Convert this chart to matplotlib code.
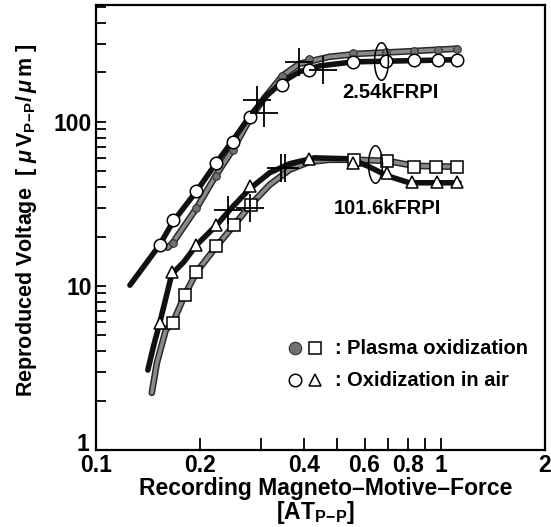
import numpy as np
import matplotlib
matplotlib.use("Agg")
import matplotlib.pyplot as plt
from matplotlib.path import Path
from matplotlib.ticker import FixedLocator, NullFormatter, FixedFormatter

plt.rcParams['font.family'] = ['Liberation Sans', 'DejaVu Sans']
plt.rcParams['font.weight'] = 'bold'
plt.rcParams['mathtext.fontset'] = 'custom'
plt.rcParams['mathtext.rm'] = 'Liberation Sans:bold'
plt.rcParams['mathtext.bf'] = 'Liberation Sans:bold'
plt.rcParams['mathtext.it'] = 'Liberation Sans:bold:italic'

# ---- data: 2.54 kFRPI ----
air_254_x = [0.153, 0.1666, 0.1954, 0.2223, 0.2489, 0.280, 0.3464, 0.4155, 0.557, 0.693, 0.834, 0.978, 1.113]
air_254_y = [17.8, 25.3, 38.1, 56.2, 75.8, 107, 168, 207, 233, 235, 239, 237, 239]
plasma_254_x = [0.1666, 0.1954, 0.2223, 0.2489, 0.280, 0.3464, 0.4155, 0.557, 0.693, 0.834, 0.978, 1.113]
plasma_254_y = [18.3, 29.9, 46.9, 67.5, 105.7, 191, 240, 262, 266, 270, 272, 278]
fit_air_254_x = [0.1254, 0.153, 0.1669, 0.1958, 0.2222, 0.2488, 0.2804, 0.3118, 0.3471, 0.3887, 0.4442, 0.557, 0.757, 1.112]
fit_air_254_y = [10.1, 17.8, 24.5, 37.9, 55.5, 76.6, 110, 144, 175, 202, 219, 232, 235, 239]
fit_plasma_254_x = [0.1615, 0.1669, 0.1958, 0.2222, 0.2488, 0.2804, 0.3077, 0.3471, 0.3887, 0.4748, 0.5786, 0.757, 1.112]
fit_plasma_254_y = [17.1, 18.3, 29.9, 46.9, 67.5, 105.7, 140, 191, 226, 249, 260, 267, 279]

# ---- data: 101.6 kFRPI ----
air_1016_x = [0.153, 0.1658, 0.1952, 0.2234, 0.2787, 0.4155, 0.557, 0.698, 0.825, 0.973, 1.113]
air_1016_y = [5.95, 12.2, 17.8, 23.4, 40.7, 59.5, 56.2, 48.9, 42.7, 42.7, 42.7]
plasma_1016_x = [0.1672, 0.1808, 0.1954, 0.2234, 0.2513, 0.2805, 0.5606, 0.699, 0.836, 0.967, 1.114]
plasma_1016_y = [5.98, 8.81, 12.2, 17.5, 23.5, 31.2, 58.7, 57.3, 53.4, 53.4, 53.4]
fit_air_1016_x = [0.1413, 0.1471, 0.153, 0.1658, 0.1797, 0.1958, 0.2238, 0.2472, 0.2787, 0.3184, 0.3637, 0.4295, 0.5422, 0.6111, 0.6983, 0.8082, 1.127]
fit_air_1016_y = [3.07, 4.37, 5.95, 11.8, 14.0, 17.8, 23.5, 29.9, 39.0, 48.9, 55.5, 60.3, 59.5, 53.9, 46.9, 42.5, 42.5]
fit_plasma_1016_x = [0.1451, 0.1501, 0.1593, 0.1669, 0.1808, 0.1958, 0.2238, 0.2514, 0.2805, 0.3184, 0.3637, 0.4155, 0.4747, 0.5606, 0.6983, 0.8356, 1.113]
fit_plasma_1016_y = [2.23, 3.39, 5.39, 5.95, 8.81, 12.2, 17.5, 23.5, 31.2, 41.3, 51.0, 57.0, 58.7, 58.7, 57.8, 53.9, 53.2]

# cross marks and ellipse marks
cross_x = [0.292, 0.3059, 0.3887, 0.456, 0.2407, 0.2787, 0.3425, 0.354]
cross_y = [136, 113.5, 232, 207, 29.1, 29.9, 52.4, 52.4]
ellipse_x = [0.671, 0.6446]
ellipse_y = [235.6, 55.5]

curve_labels = ["2.54kFRPI", "101.6kFRPI"]
curve_label_x = [0.711, 0.698]
curve_label_y = [150, 29.5]

x_ticks = [0.1, 0.2, 0.4, 0.6, 0.8, 1, 2]
x_tick_labels = ["0.1", "0.2", "0.4", "0.6", "0.8", "1", "2"]
y_ticks = [10, 100]
y_tick_labels = ["10", "100"]

W, H = 551, 527
fig = plt.figure(figsize=(W / 100, H / 100), dpi=100)
ax = fig.add_axes([96 / W, 77 / H, 449 / W, 445 / H])
ax.set_xscale('log')
ax.set_yscale('log')
ax.set_xlim(0.1, 2)
ax.set_ylim(1, 515)

GRAY = '#8a8a8a'

def gray_line(x, y):
    ax.plot(x, y, color='#2a2a2a', lw=4.8, solid_capstyle='round', zorder=2)
    ax.plot(x, y, color=GRAY, lw=2.6, solid_capstyle='round', zorder=2.1)

def black_line(x, y):
    ax.plot(x, y, color='#111111', lw=4.0, solid_capstyle='round', zorder=3)

gray_line(fit_plasma_254_x, fit_plasma_254_y)
black_line(fit_air_254_x, fit_air_254_y)
gray_line(fit_plasma_1016_x, fit_plasma_1016_y)
black_line(fit_air_1016_x, fit_air_1016_y)

ms = 9.0
ax.plot(plasma_254_x, plasma_254_y, 'o', ms=5.5, mfc='#707070', mec='#333333', mew=0.8, zorder=4)
ax.plot(air_254_x, air_254_y, 'o', ms=ms, mfc='white', mec='black', mew=1.1, zorder=5)
ax.plot(plasma_1016_x, plasma_1016_y, 's', ms=8.5, mfc='white', mec='black', mew=1.1, zorder=5)
ax.plot(air_1016_x, air_1016_y, '^', ms=ms, mfc='white', mec='black', mew=1.1, zorder=5)

ax.plot(cross_x, cross_y, '+', ms=20, mec='black', mew=1.3, zorder=6)

t = np.linspace(0, 2 * np.pi, 60)
ell = Path(np.column_stack([0.37 * np.cos(t), np.sin(t)]))
ax.plot(ellipse_x, ellipse_y, ls='none', marker=ell, ms=27, mfc='none', mec='black', mew=1.1, zorder=6)

for lab, lx, ly in zip(curve_labels, curve_label_x, curve_label_y):
    ax.text(lx, ly, lab, fontsize=14.5, fontweight='bold', ha='center', va='center')

# legend (drawn manually)
ax.plot([0.443], [0.229], 'o', ms=ms, mfc='#707070', mec='#333333', mew=0.8, transform=ax.transAxes, clip_on=False)
ax.plot([0.488], [0.229], 's', ms=8.5, mfc='white', mec='black', mew=1.1, transform=ax.transAxes)
ax.plot([0.443], [0.157], 'o', ms=ms, mfc='white', mec='black', mew=1.1, transform=ax.transAxes)
ax.plot([0.488], [0.157], '^', ms=ms, mfc='white', mec='black', mew=1.1, transform=ax.transAxes)
ax.text(0.537, 0.229, ":", transform=ax.transAxes, fontsize=14.5, fontweight='bold', ha='center', va='center')
ax.text(0.537, 0.157, ":", transform=ax.transAxes, fontsize=14.5, fontweight='bold', ha='center', va='center')
ax.text(0.559, 0.229, "Plasma oxidization", transform=ax.transAxes, fontsize=14.5, fontweight='bold', ha='left', va='center')
ax.text(0.559, 0.157, "Oxidization in air", transform=ax.transAxes, fontsize=14.5, fontweight='bold', ha='left', va='center')

# ticks
ax.xaxis.set_major_locator(FixedLocator(x_ticks))
ax.xaxis.set_major_formatter(FixedFormatter(x_tick_labels))
ax.xaxis.set_minor_locator(FixedLocator([0.3, 0.5, 0.7, 0.9]))
ax.xaxis.set_minor_formatter(NullFormatter())
ax.yaxis.set_major_locator(FixedLocator(y_ticks))
ax.yaxis.set_major_formatter(FixedFormatter(y_tick_labels))
ax.yaxis.set_minor_locator(FixedLocator([v * d for d in (1, 10, 100) for v in range(2, 10)]))
ax.yaxis.set_minor_formatter(NullFormatter())
ax.tick_params(which='both', direction='in', width=1.3, labelsize=16.5)
ax.tick_params(axis='x', which='both', length=9, pad=3)
ax.tick_params(axis='y', which='both', length=7, pad=3)
ax.tick_params(which='both', top=False, right=False)
for lab in ax.get_xticklabels() + ax.get_yticklabels():
    lab.set_fontweight('bold')
for s in ax.spines.values():
    s.set_linewidth(1.6)

fig.text(89 / W, 1 - 451 / H, "1", fontsize=16.5, fontweight='bold', ha='right', va='baseline')

fig.text(326 / W, 1 - 488 / H, "Recording Magneto\u2013Motive\u2013Force", fontsize=16.5, fontweight='bold', ha='center', va='center')
fig.text(316 / W, 1 - 512 / H, r"[AT$_{\mathrm{P\!-\!P}}$]", fontsize=16.5, fontweight='bold', ha='center', va='center')
fig.text(27 / W, 1 - 220 / H, r"Reproduced Voltage  [ $\mathit{\mu}\,\mathrm{V}_{\mathrm{P\!-\!P}}\mathrm{/}\,\mathit{\mu}\,\mathrm{m}$ ]",
         fontsize=15.5, fontweight='bold', rotation=90, ha='center', va='center')

fig.savefig("out.png", dpi=100, facecolor='white')
